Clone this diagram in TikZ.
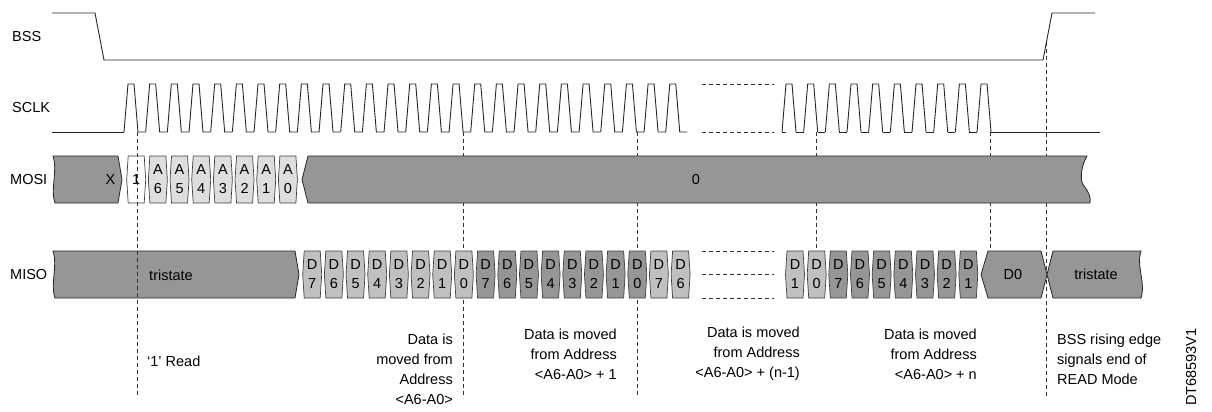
\documentclass[tikz,border=0pt]{standalone}
\usepackage{fontspec}
\setmainfont{Liberation Sans}

\definecolor{bandgray}{RGB}{150,150,150}
\definecolor{midgray}{RGB}{192,192,192}
\definecolor{palegray}{RGB}{222,222,222}

\tikzset{
  sig/.style={draw=black!85, line width=0.9pt},
  band/.style={draw=black!85, line width=0.8pt, fill=bandgray},
  bit/.style={draw=black!75, line width=0.7pt},
  guide/.style={draw=black!80, line width=0.8pt, dash pattern=on 4pt off 3pt},
  lbl/.style={inner sep=0pt, font=\fontsize{14.5}{19}\selectfont},
  note/.style={inner sep=0pt, font=\fontsize{14.5}{20}\selectfont},
}

% one clocked bit: left x, top y, fill, text, name
\newcommand{\bitcell}[5]{%
  \draw[bit, fill=#3] (#1,#2) ++(1.5,0) -- ++(16,0) -- ++(1.5,23.5)
    -- ++(-1.5,23.5) -- ++(-16,0) -- ++(-1.5,-23.5) -- cycle;
  \node[lbl, align=center] (#5) at (#1+9.5,#2+23.5) {#4};
}

\begin{document}
\begin{tikzpicture}[x=1pt, y=-1pt]
  \useasboundingbox (0,0) rectangle (1212,412);

  \def\clk{21.67}
  \def\mosi{156}
  \def\miso{251}

  % --- guide lines (behind the bands) ---
  \draw[guide] (463,132) -- (463,398);
  \draw[guide] (637,132) -- (637,398);
  \draw[guide] (816.7,132) -- (816.7,\miso);
  \draw[guide] (990.7,132) -- (990.7,\miso);
  \draw[guide] (1046.5,42) -- (1046.5,398);

  % --- BSS ---
  \node[lbl, anchor=west] (bss) at (12,37) {BSS};
  \draw[sig] (52,13) -- (95,13) -- (104,60) -- (1043,60) -- (1052,13) -- (1095,13);

  % --- SCLK ---
  \node[lbl, anchor=west] (sclk) at (12,108) {SCLK};
  \draw[sig] (52,132) -- (124,132);
  \foreach \k in {0,...,25} {
    \draw[sig] (124+\clk*\k,132) -- ++(4,-48) -- ++(6,0) -- ++(4,48) -- ++(7.67,0);
  }
  \draw[guide] (702,84) -- (774,84) (702,132) -- (774,132);
  \foreach \k in {0,...,9} {
    \draw[sig] (782+\clk*\k,132) -- ++(4,-48) -- ++(6,0) -- ++(4,48);
  }
  \draw[sig] (782,132) -- (786,132) (991,132) -- (1100,132);
  \foreach \k in {0,...,8} {
    \draw[sig] (796+\clk*\k,132) -- ++(7.67,0);
  }

  % --- MOSI ---
  \node[lbl, anchor=west] (mosi) at (10,180) {MOSI};
  \draw[band] (53,\mosi) -- (118,\mosi) -- (122,\mosi+23.5) -- (118,\mosi+47) -- (55,\mosi+47)
    .. controls (50,\mosi+32) and (58,\mosi+16) .. (53,\mosi) -- cycle;
  \node[lbl] (mosix) at (110.5,179.5) {X};
  \bitcell{126.7}{\mosi}{white}{1}{rw}
  \foreach \a [count=\i] in {6,5,...,0} {
    \bitcell{126.7+\clk*\i}{\mosi}{palegray}{A\\\a}{a\a}
  }
  \draw[band] (302,\mosi+23.5) -- (308,\mosi) -- (1087,\mosi)
    .. controls (1080,\mosi+12) and (1080,\mosi+26) .. (1084,\mosi+30)
    .. controls (1089,\mosi+36) and (1091,\mosi+42) .. (1090,\mosi+47)
    -- (308,\mosi+47) -- cycle;
  \node[lbl] (mosizero) at (696,179.5) {0};

  % --- MISO ---
  \node[lbl, anchor=west] (miso) at (10,275) {MISO};
  \draw[band] (53,\miso) -- (295,\miso) -- (299,\miso+23.5) -- (295,\miso+47) -- (55,\miso+47)
    .. controls (50,\miso+32) and (58,\miso+16) .. (53,\miso) -- cycle;
  \node[lbl] (tristin) at (171,275) {tristate};
  \foreach \d [count=\i from 0] in {7,6,...,0} {
    \bitcell{302.7+\clk*\i}{\miso}{midgray}{D\\\d}{p\d}
    \bitcell{476.1+\clk*\i}{\miso}{bandgray}{D\\\d}{q\d}
  }
  \bitcell{649.4}{\miso}{midgray}{D\\7}{r7}
  \bitcell{671.1}{\miso}{midgray}{D\\6}{r6}
  \draw[guide] (702,\miso) -- (774,\miso) (702,\miso+23.5) -- (774,\miso+23.5)
    (702,\miso+47) -- (774,\miso+47);
  \bitcell{785.5}{\miso}{midgray}{D\\1}{s1}
  \bitcell{807.2}{\miso}{midgray}{D\\0}{s0}
  \foreach \d [count=\i from 0] in {7,6,...,1} {
    \bitcell{828.8+\clk*\i}{\miso}{bandgray}{D\\\d}{t\d}
  }
  \draw[band] (981,\miso+23.5) -- (988,\miso) -- (1041,\miso) -- (1047,\miso+23.5)
    -- (1041,\miso+47) -- (988,\miso+47) -- cycle;
  \node[lbl] (lastd) at (1013,275) {D0};
  \draw[band] (1047,\miso+23.5) -- (1053,\miso) -- (1141,\miso)
    .. controls (1136,\miso+15) and (1146,\miso+32) .. (1141,\miso+47)
    -- (1053,\miso+47) -- cycle;
  \node[lbl] (tristout) at (1096,274.5) {tristate};

  % read bit marker on top
  \draw[guide] (137,132) -- (137,398);

  % --- notes ---
  \node[note, anchor=west] (readbit) at (147,361) {`1' Read};
  \node[note, align=right, anchor=east] (first) at (453,369) {Data is\\moved from\\Address\\<A6-A0>};
  \node[note, align=right, anchor=east] (second) at (617,354) {Data is moved\\from Address\\<A6-A0> + 1};
  \node[note, align=right, anchor=east] (nminus) at (800,354) {Data is moved\\from Address\\<A6-A0> + (n-1)};
  \node[note, align=right, anchor=east] (nth) at (977,354) {Data is moved\\from Address\\<A6-A0> + n};
  \node[note, align=left, anchor=west] (endnote) at (1057,359.5) {BSS rising edge\\signals end of\\READ Mode};
  \node[note, rotate=90] (docid) at (1191,367) {DT68593V1};
\end{tikzpicture}
\end{document}
